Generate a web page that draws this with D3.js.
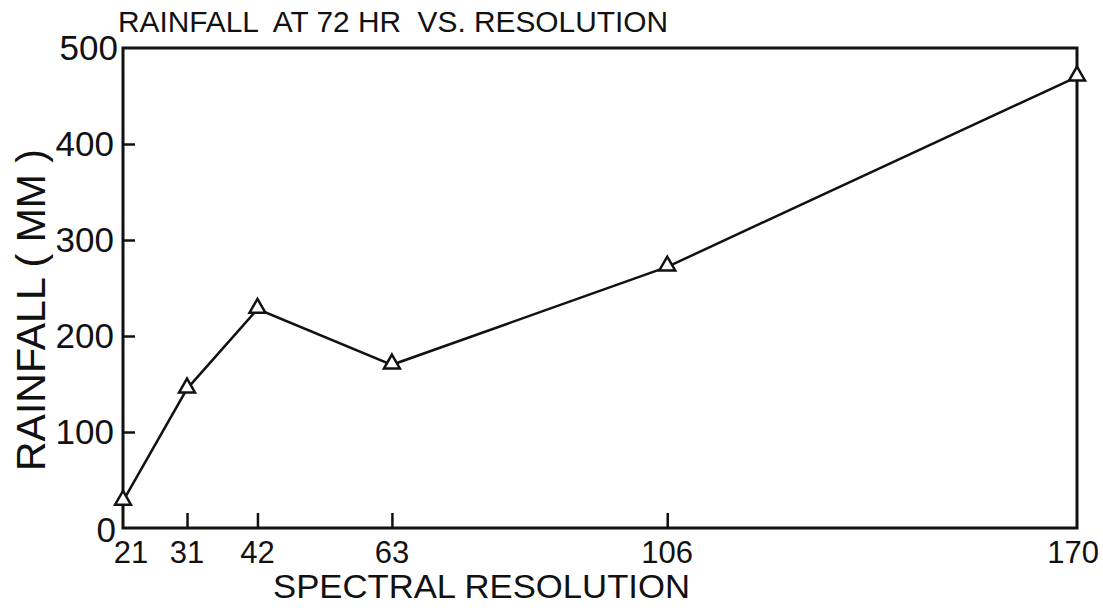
<!DOCTYPE html>
<html><head><meta charset="utf-8">
<script src="https://cdn.jsdelivr.net/npm/d3@7/dist/d3.min.js"></script>
<style>
html,body{margin:0;padding:0;background:#fff;}
text{font-family:"Liberation Sans",Arial,sans-serif;fill:#111;}
</style></head>
<body><svg id="c" width="1103" height="613"></svg>
<script>
const resolutions = [21, 31, 42, 63, 106, 170];
const rainfall = [28, 145, 228, 170, 272, 470];
const yTicks = [0, 100, 200, 300, 400, 500];
const xTicks = [21, 31, 42, 63, 106, 170];
const title = "RAINFALL  AT 72 HR  VS. RESOLUTION";
const xTitle = "SPECTRAL RESOLUTION";
const yTitle = "RAINFALL ( MM )";

const svg = d3.select("#c");
const L = 123, R = 1077, T = 48, B = 528;
const x = d3.scaleLinear().domain([21, 170]).range([L, R]);
const y = d3.scaleLinear().domain([0, 500]).range([B, T]);

// frame
svg.append("rect").attr("x", L).attr("y", T).attr("width", R - L).attr("height", B - T)
  .attr("fill", "none").attr("stroke", "#111").attr("stroke-width", 3);

// y axis ticks (inward)
const ya = svg.append("g").attr("transform", `translate(${L},0)`)
  .call(d3.axisLeft(y).tickValues(yTicks.filter(v => v > 0 && v < 500)).tickSize(-12).tickFormat(""));
ya.select(".domain").remove();
ya.selectAll("line").attr("stroke", "#111").attr("stroke-width", 2.5);

// x axis ticks (inward)
const xa = svg.append("g").attr("transform", `translate(0,${B})`)
  .call(d3.axisBottom(x).tickValues(xTicks.filter(v => v > 21 && v < 170)).tickSize(-15).tickFormat(""));
xa.select(".domain").remove();
xa.selectAll("line").attr("stroke", "#111").attr("stroke-width", 2.5);

// y tick labels
svg.selectAll(".yl").data(yTicks).enter().append("text")
  .attr("x", d => d === 0 ? 116 : d === 500 ? 118 : 114)
  .attr("y", d => d === 0 ? y(d) + 14 : y(d) + 12)
  .attr("text-anchor", "end").attr("font-size", 35).text(d => d);

// x tick labels
svg.selectAll(".xl").data(xTicks).enter().append("text")
  .attr("x", d => d === 170 ? x(d) + 22 : x(d) + (d === 21 ? 8 : 0))
  .attr("text-anchor", d => d === 170 ? "end" : "middle")
  .attr("y", B + 35).attr("font-size", 31).text(d => d);

// titles
svg.append("text").attr("x", 118).attr("y", 32).attr("font-size", 29)
  .attr("textLength", 550).attr("lengthAdjust", "spacingAndGlyphs")
  .style("white-space", "pre").text(title);
svg.append("text").attr("x", 273).attr("y", 598).attr("font-size", 33)
  .attr("textLength", 417).attr("lengthAdjust", "spacingAndGlyphs").text(xTitle);
svg.append("text").attr("transform", `translate(45,310) rotate(-90)`)
  .attr("text-anchor", "middle").attr("font-size", 41)
  .attr("textLength", 322).attr("lengthAdjust", "spacingAndGlyphs").text(yTitle);

// line
const pts = resolutions.map((r, i) => [r, rainfall[i]]);
svg.append("path").datum(pts)
  .attr("d", d3.line().x(d => x(d[0])).y(d => y(d[1])))
  .attr("fill", "none").attr("stroke", "#111").attr("stroke-width", 2.5);

// triangle markers
const tri = d3.symbol().type(d3.symbolTriangle).size(110);
svg.selectAll(".pt").data(pts).enter().append("path")
  .attr("d", tri).attr("transform", d => `translate(${x(d[0])},${y(d[1]) - 1})`)
  .attr("fill", "#fff").attr("stroke", "#111").attr("stroke-width", 2.5);
</script></body></html>
